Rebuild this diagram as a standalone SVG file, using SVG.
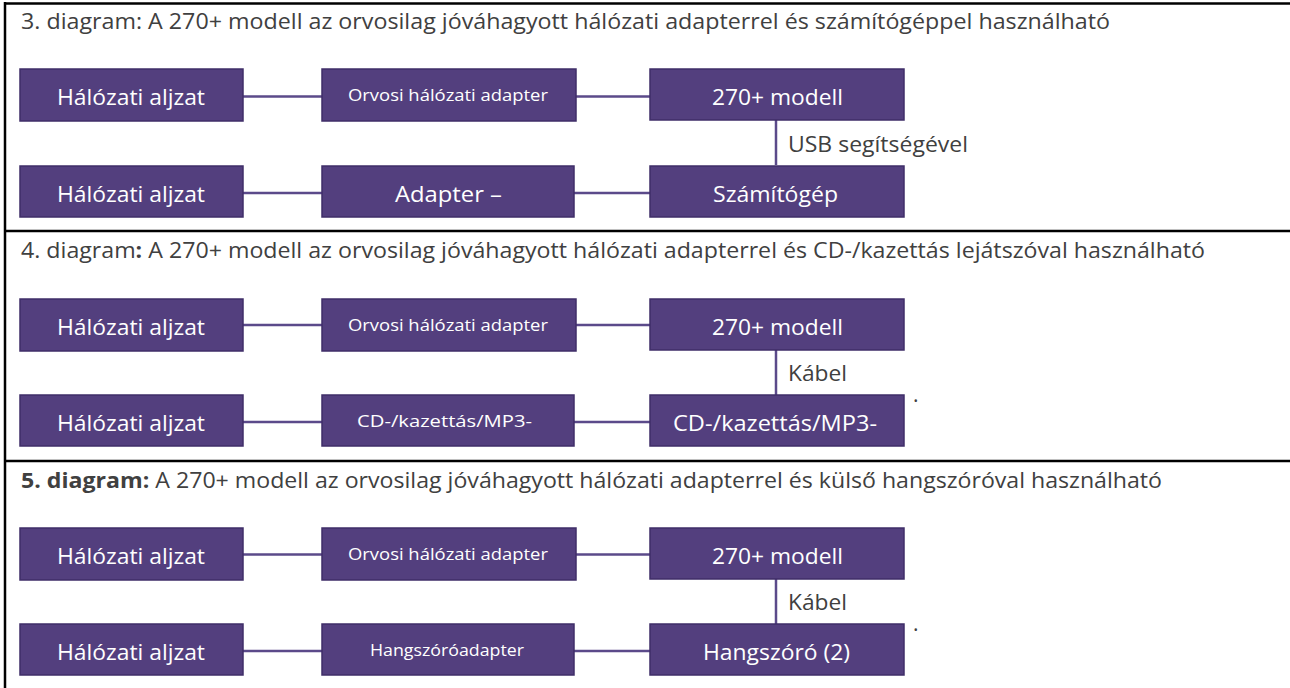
<svg xmlns="http://www.w3.org/2000/svg" width="1290" height="688" viewBox="0 0 1290 688">
<style>
.frame{stroke:#000;stroke-width:2.5;fill:none}
.box{fill:#533F7E;stroke:#3F2E68;stroke-width:1.5}
.conn{stroke:#5B4A8A;stroke-width:2.5;fill:none}
.title{font-family:"Open Sans","Liberation Sans",sans-serif;font-size:21px;fill:#404040}
.big{font-family:"Open Sans","Liberation Sans",sans-serif;font-size:22px;fill:#fff}
.small{font-family:"Open Sans","Liberation Sans",sans-serif;font-size:17px;fill:#fff}
.lbl{font-family:"Open Sans","Liberation Sans",sans-serif;font-size:21px;fill:#404040}
.b{font-weight:bold}
</style>
<rect width="1290" height="688" fill="#fff"/>
<g id="frame">
<line class="frame" x1="5" y1="3.5" x2="1290" y2="3.5"/>
<line class="frame" x1="5" y1="231" x2="1290" y2="231"/>
<line class="frame" x1="5" y1="461" x2="1290" y2="461"/>
<line class="frame" x1="5" y1="2" x2="5" y2="688"/>
</g>
<g id="titles">
<text class="title" x="21" y="29" textLength="1089" lengthAdjust="spacingAndGlyphs">3. diagram: A 270+ modell az orvosilag jóváhagyott hálózati adapterrel és számítógéppel használható</text>
<text class="title" x="21" y="258" textLength="1184" lengthAdjust="spacingAndGlyphs">4. diagram<tspan class="b">:</tspan> A 270+ modell az orvosilag jóváhagyott hálózati adapterrel és CD-/kazettás lejátszóval használható</text>
<text class="title" x="21" y="488" textLength="1141" lengthAdjust="spacingAndGlyphs"><tspan class="b">5. diagram:</tspan> A 270+ modell az orvosilag jóváhagyott hálózati adapterrel és külső hangszóróval használható</text>
</g>
<g id="connectors">
<line class="conn" x1="243" y1="96.5" x2="322" y2="96.5"/>
<line class="conn" x1="576" y1="96.5" x2="650" y2="96.5"/>
<line class="conn" x1="776" y1="120" x2="776" y2="165"/>
<line class="conn" x1="243" y1="193" x2="322" y2="193"/>
<line class="conn" x1="574" y1="193" x2="650" y2="193"/>
<line class="conn" x1="243" y1="325" x2="322" y2="325"/>
<line class="conn" x1="576" y1="325" x2="650" y2="325"/>
<line class="conn" x1="776" y1="350" x2="776" y2="395"/>
<line class="conn" x1="243" y1="422" x2="322" y2="422"/>
<line class="conn" x1="574" y1="422" x2="650" y2="422"/>
<line class="conn" x1="243" y1="554.5" x2="322" y2="554.5"/>
<line class="conn" x1="576" y1="554.5" x2="650" y2="554.5"/>
<line class="conn" x1="776" y1="579" x2="776" y2="624"/>
<line class="conn" x1="243" y1="651" x2="322" y2="651"/>
<line class="conn" x1="574" y1="651" x2="650" y2="651"/>
</g>
<g id="labels">
<text class="lbl" x="788" y="152" textLength="180" lengthAdjust="spacingAndGlyphs">USB segítségével</text>
<text class="lbl" x="788" y="381" textLength="59" lengthAdjust="spacingAndGlyphs">Kábel</text>
<text class="lbl" x="788" y="610" textLength="59" lengthAdjust="spacingAndGlyphs">Kábel</text>
<text class="lbl" x="913" y="402" font-size="12">.</text>
<text class="lbl" x="913" y="631" font-size="12">.</text>
</g>
<g id="s1-aljzat1"><rect class="box" x="20" y="69" width="223" height="52"/><text class="big" x="57" y="105" textLength="148" lengthAdjust="spacingAndGlyphs">Hálózati aljzat</text></g>
<g id="s1-orvosi"><rect class="box" x="322" y="69" width="254" height="52"/><text class="small" x="348" y="101" textLength="200" lengthAdjust="spacingAndGlyphs">Orvosi hálózati adapter</text></g>
<g id="s1-modell"><rect class="box" x="650" y="69" width="254" height="51"/><text class="big" x="712" y="105" textLength="131" lengthAdjust="spacingAndGlyphs">270+ modell</text></g>
<g id="s1-aljzat2"><rect class="box" x="20" y="166" width="223" height="51"/><text class="big" x="57" y="202" textLength="148" lengthAdjust="spacingAndGlyphs">Hálózati aljzat</text></g>
<g id="s1-adapter"><rect class="box" x="322" y="166" width="252" height="51"/><text class="big" x="395" y="202" textLength="107" lengthAdjust="spacingAndGlyphs">Adapter –</text></g>
<g id="s1-szamitogep"><rect class="box" x="650" y="166" width="254" height="51"/><text class="big" x="713" y="202" textLength="125" lengthAdjust="spacingAndGlyphs">Számítógép</text></g>
<g id="s2-aljzat1"><rect class="box" x="20" y="299" width="223" height="52"/><text class="big" x="57" y="335" textLength="148" lengthAdjust="spacingAndGlyphs">Hálózati aljzat</text></g>
<g id="s2-orvosi"><rect class="box" x="322" y="299" width="254" height="52"/><text class="small" x="348" y="331" textLength="200" lengthAdjust="spacingAndGlyphs">Orvosi hálózati adapter</text></g>
<g id="s2-modell"><rect class="box" x="650" y="299" width="254" height="51"/><text class="big" x="712" y="335" textLength="131" lengthAdjust="spacingAndGlyphs">270+ modell</text></g>
<g id="s2-aljzat2"><rect class="box" x="20" y="395" width="223" height="51"/><text class="big" x="57" y="431" textLength="148" lengthAdjust="spacingAndGlyphs">Hálózati aljzat</text></g>
<g id="s2-cdadapter"><rect class="box" x="322" y="395" width="252" height="51"/><text class="small" x="357" y="427" textLength="175" lengthAdjust="spacingAndGlyphs">CD-/kazettás/MP3-</text></g>
<g id="s2-cd"><rect class="box" x="650" y="395" width="254" height="51"/><text class="big" x="673" y="431" textLength="204" lengthAdjust="spacingAndGlyphs">CD-/kazettás/MP3-</text></g>
<g id="s3-aljzat1"><rect class="box" x="20" y="528" width="223" height="52"/><text class="big" x="57" y="564" textLength="148" lengthAdjust="spacingAndGlyphs">Hálózati aljzat</text></g>
<g id="s3-orvosi"><rect class="box" x="322" y="528" width="254" height="52"/><text class="small" x="348" y="560" textLength="200" lengthAdjust="spacingAndGlyphs">Orvosi hálózati adapter</text></g>
<g id="s3-modell"><rect class="box" x="650" y="528" width="254" height="51"/><text class="big" x="712" y="564" textLength="131" lengthAdjust="spacingAndGlyphs">270+ modell</text></g>
<g id="s3-aljzat2"><rect class="box" x="20" y="624" width="223" height="51"/><text class="big" x="57" y="660" textLength="148" lengthAdjust="spacingAndGlyphs">Hálózati aljzat</text></g>
<g id="s3-hangadapter"><rect class="box" x="322" y="624" width="252" height="51"/><text class="small" x="370" y="656" textLength="154" lengthAdjust="spacingAndGlyphs">Hangszóróadapter</text></g>
<g id="s3-hangszoro"><rect class="box" x="650" y="624" width="254" height="51"/><text class="big" x="703" y="660" textLength="147" lengthAdjust="spacingAndGlyphs">Hangszóró (2)</text></g>
</svg>
